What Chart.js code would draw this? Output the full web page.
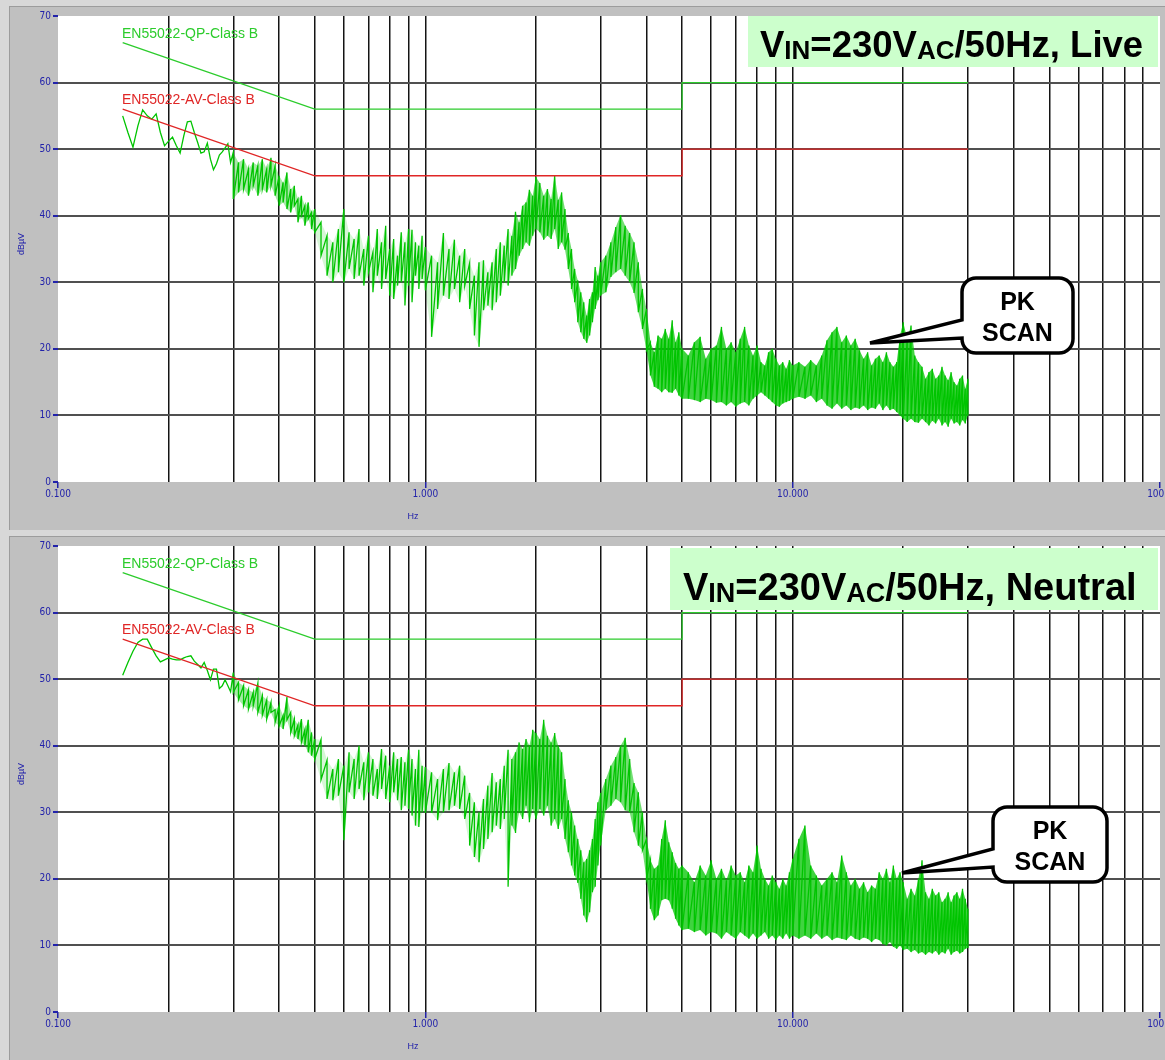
<!DOCTYPE html>
<html>
<head>
<meta charset="utf-8">
<title>Conducted EMI - PK scan</title>
<script src="https://cdn.jsdelivr.net/npm/chart.js"></script>
<style>
    body {
        margin: 0;
        background-color: #c0c0c0;
    }
    .panel {
        position: absolute;
        left: 0;
        width: 1165px;
        height: 530px;
    }
    #live { top: 0; }
    #neutral { top: 530px; }
</style>
</head>
<body>
<canvas id="live" class="panel" width="1165" height="530"></canvas>
<canvas id="neutral" class="panel" width="1165" height="530"></canvas>

<script>
// frequency grid of the scan (MHz), shared by both traces
var freqMHz = [
    0.150, 0.155, 0.160, 0.165, 0.170, 0.175, 0.180, 0.185, 0.190, 0.195,
    0.200, 0.205, 0.210, 0.215, 0.220, 0.225, 0.230, 0.235, 0.240, 0.245,
    0.250, 0.255, 0.260, 0.265, 0.270, 0.275, 0.280, 0.285, 0.290, 0.295,
    0.30, 0.31, 0.32, 0.33, 0.34, 0.35, 0.36, 0.37, 0.38, 0.39, 0.40, 0.41, 0.42, 0.43, 0.44, 0.45, 0.46, 0.47, 0.48, 0.49, 0.50,
    0.52, 0.54, 0.56, 0.58, 0.60, 0.62, 0.64, 0.66, 0.68, 0.70, 0.72, 0.74, 0.76, 0.78, 0.80, 0.82, 0.84, 0.86, 0.88, 0.90, 0.92, 0.94, 0.96, 0.98, 1.00,
    1.04, 1.08, 1.12, 1.16, 1.20, 1.24, 1.28, 1.32, 1.36, 1.40, 1.44, 1.48, 1.52, 1.56, 1.60, 1.64, 1.68, 1.72, 1.76, 1.80, 1.84, 1.88, 1.92, 1.96, 2.00,
    2.05, 2.10, 2.15, 2.20, 2.25, 2.30, 2.35, 2.40, 2.45, 2.50, 2.55, 2.60, 2.65, 2.70, 2.75, 2.80, 2.85, 2.90, 2.95, 3.00,
    3.1, 3.2, 3.3, 3.4, 3.5, 3.6, 3.7, 3.8, 3.9, 4.0, 4.1, 4.2, 4.3, 4.4, 4.5, 4.6, 4.7, 4.8, 4.9, 5.0,
    5.2, 5.4, 5.6, 5.8, 6.0, 6.2, 6.4, 6.6, 6.8, 7.0, 7.2, 7.4, 7.6, 7.8, 8.0, 8.2, 8.4, 8.6, 8.8, 9.0, 9.2, 9.4, 9.6, 9.8, 10.0,
    10.4, 10.8, 11.2, 11.6, 12.0, 12.4, 12.8, 13.2, 13.6, 14.0, 14.4, 14.8, 15.2, 15.6, 16.0, 16.4, 16.8, 17.2, 17.6, 18.0, 18.4, 18.8, 19.2, 19.6, 20.0,
    20.5, 21.0, 21.5, 22.0, 22.5, 23.0, 23.5, 24.0, 24.5, 25.0, 25.5, 26.0, 26.5, 27.0, 27.5, 28.0, 28.5, 29.0, 29.5, 30.0
];

// peak scan, live line (dBuV): max and min of each sweep bin (null = single reading)
var liveMax = [
    55.0, 52.5, 50.3, 53.5, 55.9, 55.0, 54.5, 55.3, 52.5, 50.5,
    51.2, 51.8, 50.5, 49.4, 52.0, 54.1, 54.2, 52.5, 51.0, 49.4,
    49.6, 50.9, 48.5, 46.9, 47.8, 49.1, 49.6, 50.2, 50.8, 48.0,
    49.5, 48.0, 48.5, 47.0, 48.0, 47.5, 48.5, 47.0, 48.7, 47.5, 46.0, 45.0, 46.5, 44.0, 44.5, 42.5, 43.0, 41.5, 42.0, 40.5, 41.0,
    39.0, 37.0, 36.0, 38.0, 41.0, 37.5, 36.5, 38.0, 35.0, 37.0, 34.5, 38.0, 36.0, 38.5, 35.0, 36.5, 34.0, 37.5, 36.0, 38.0, 37.9, 36.0, 35.5, 37.0, 35.3,
    34.0, 33.0, 37.4, 35.0, 36.4, 34.0, 35.0, 32.9, 31.0, 33.0, 33.3, 31.5, 33.0, 35.0, 36.0, 35.5, 38.0, 37.0, 40.6, 39.0, 41.5, 42.0, 43.9, 43.0, 45.8,
    44.9, 43.0, 44.0, 42.5, 46.1, 42.4, 43.5, 41.0, 37.4, 35.0, 32.0, 30.3, 28.5, 27.0, 25.0, 27.5, 28.5, 32.3, 31.0, 33.0,
    34.0, 36.0, 38.3, 40.1, 38.5, 37.4, 36.0, 33.0, 29.0, 26.0, 21.0, 19.5, 22.0, 21.5, 23.0, 21.5, 24.3, 21.0, 22.5, 20.0,
    19.0, 21.0, 21.8, 18.5, 20.0, 20.5, 23.3, 20.0, 21.0, 19.5, 21.5, 23.3, 20.5, 19.0, 20.5, 18.0, 17.5, 19.5, 20.0, 18.5, 17.5, 18.0, 17.0, 18.3, 17.5,
    18.0, 17.3, 18.3, 17.5, 19.0, 21.3, 22.5, 23.3, 21.0, 22.0, 20.5, 21.5, 19.8, 18.5, 19.5, 17.5, 18.5, 19.0, 18.0, 19.5, 18.0, 17.3, 18.0, 22.0, 24.0,
    21.5, 23.5, 19.0, 18.0, 17.3, 15.5, 16.5, 17.0, 15.5, 16.0, 17.3, 16.0, 15.3, 16.5, 15.0, 14.5, 15.5, 16.0, 14.0, 15.5
];
var liveMin = [
    null, null, null, null, null, null, null, null, null, null,
    null, null, null, null, null, null, null, null, null, null,
    null, null, null, null, null, null, null, null, null, null,
    42.5, 43.5, 44.0, 43.0, 44.5, 43.0, 44.0, 43.5, 44.5, 43.0, 41.5, 42.0, 41.0, 40.5, 41.5, 39.0, 40.0, 38.5, 39.5, 38.0, 37.5,
    34.0, 31.0, 30.0, 31.5, 30.0, 32.0, 30.5, 31.0, 29.5, 31.5, 28.5, 31.0, 29.0, 30.5, 28.0, 27.5, 29.5, 30.0, 26.5, 29.5, 27.0, 31.0, 29.0, 30.5, 28.8,
    21.8, 26.0, 28.0, 27.5, 29.0, 27.0, 29.5, 26.0, 22.0, 20.3, 25.8, 26.5, 25.8, 27.0, 28.0, 30.0, 29.5, 31.0, 32.0, 34.0, 35.0, 36.0, 35.5, 37.0, 38.0,
    37.5, 36.4, 37.0, 36.5, 38.0, 35.0, 36.0, 34.9, 32.0, 29.0, 27.0, 24.0, 22.5, 21.5, 20.9, 22.0, 24.0, 26.0, 27.3, 28.0,
    28.5, 30.8, 31.5, 32.0, 31.0, 30.0, 28.4, 25.5, 23.0, 19.8, 16.0, 14.3, 14.0, 13.5, 14.0, 13.5, 13.4, 14.0, 13.0, 12.5,
    12.5, 12.3, 12.0, 12.5, 12.3, 11.9, 12.0, 11.5, 12.0, 11.3, 11.8, 12.0, 11.5, 12.5, 13.0, 13.5, 13.0, 12.5, 12.0, 11.5, 11.3, 11.8, 12.0, 12.2, 12.5,
    12.8, 12.5, 13.0, 12.0, 12.5, 11.5, 11.0, 11.8, 11.0, 11.5, 10.8, 11.2, 11.0, 11.5, 10.8, 11.2, 11.0, 11.8, 10.8, 11.5, 10.8, 11.0, 10.5, 10.0, 9.5,
    9.0, 9.5, 9.0, 8.9, 9.5, 9.0, 8.5, 9.2, 8.8, 9.5, 8.5, 9.0, 8.3, 9.5, 8.8, 9.0, 8.5, 9.3, 8.8, 10.0
];

// peak scan, neutral line (dBuV)
var neutralMax = [
    50.6, 52.5, 54.2, 55.5, 56.0, 56.0, 54.7, 53.5, 52.6, 52.9,
    53.2, 53.0, 52.9, 52.9, 53.2, 53.4, 53.5, 52.7, 52.2, 51.7,
    52.5, 51.3, 49.9, 51.5, 51.5, 48.6, 49.0, 49.9, 49.0, 48.1,
    51.0, 49.5, 49.0, 48.4, 48.0, 49.4, 47.5, 46.9, 46.5, 45.4, 46.0, 44.5, 47.3, 45.0, 44.0, 43.1, 44.0, 42.4, 43.9, 42.0, 41.0,
    40.9, 37.8, 36.5, 38.0, 37.0, 39.0, 38.0, 40.0, 37.5, 39.0, 38.0, 36.5, 39.5, 38.5, 37.0, 39.0, 38.0, 38.3, 37.5, 39.4, 38.0, 36.5, 39.4, 37.0, 36.8,
    36.0, 35.0, 36.5, 37.4, 36.0, 37.0, 35.5, 32.9, 31.5, 30.0, 32.0, 34.0, 35.9, 34.5, 35.0, 37.0, 39.4, 38.0, 39.0, 40.5, 39.5, 41.0, 40.0, 42.4, 41.9,
    41.0, 43.9, 41.5, 40.5, 41.9, 40.0, 39.0, 35.0, 31.8, 30.0, 28.0, 26.0, 24.3, 22.5, 23.0, 24.3, 26.0, 29.0, 31.5, 32.9,
    35.0, 37.0, 38.3, 40.0, 41.2, 38.0, 34.4, 33.0, 30.0, 26.0, 22.8, 21.5, 22.0, 26.0, 28.8, 25.5, 24.0, 22.4, 21.5, 22.0,
    21.0, 19.5, 22.0, 20.5, 22.8, 20.0, 21.5, 19.8, 22.0, 20.5, 21.0, 19.5, 22.0, 21.0, 25.0, 21.5, 20.0, 19.0, 20.5, 19.5, 18.5, 20.0, 19.0, 21.0, 23.0,
    26.0, 28.0, 22.0, 20.5, 19.0, 20.0, 21.0, 19.5, 23.5, 21.0, 19.0, 20.0, 18.5, 19.5, 18.0, 19.0, 18.5, 21.0, 20.0, 21.5, 19.5, 22.0, 20.0, 21.0, 19.5,
    17.0, 18.5, 17.5, 20.0, 22.8, 18.0, 17.0, 18.5, 17.5, 18.0, 16.5, 17.0, 18.0, 16.5, 17.5, 18.0, 17.0, 18.5, 17.0, 15.5
];
var neutralMin = [
    null, null, null, null, null, null, null, null, null, null,
    null, null, null, null, null, null, null, null, null, null,
    null, null, null, null, null, null, null, null, null, null,
    48.0, 46.9, 46.0, 45.5, 46.0, 45.0, 44.6, 44.0, 45.0, 43.5, 43.0, 42.5, 43.9, 42.0, 41.5, 41.0, 40.5, 40.0, 39.0, 38.5, 38.0,
    34.9, 32.0, 31.8, 32.5, 25.8, 33.0, 32.0, 33.5, 31.8, 33.0, 32.5, 32.0, 33.5, 32.0, 31.5, 33.0, 31.8, 30.3, 31.0, 30.5, 29.5, 28.0, 27.8, 30.0, 29.9,
    29.9, 28.8, 30.0, 30.3, 31.0, 30.5, 29.0, 25.0, 23.3, 22.5, 24.5, 26.0, 27.0, 28.0, 27.5, 29.0, 18.8, 28.0, 26.9, 30.0, 29.0, 31.0, 28.5, 30.5, 29.0,
    30.5, 29.5, 31.0, 28.0, 29.0, 27.5, 29.0, 26.0, 24.0, 22.0, 20.5, 19.4, 17.0, 14.5, 13.5, 15.0, 18.0, 18.8, 22.0, 25.0,
    30.3, 31.0, 32.0, 31.5, 30.3, 30.0, 27.0, 25.0, 24.3, 20.0, 15.5, 13.8, 14.5, 16.8, 17.0, 16.8, 15.5, 14.0, 13.0, 12.3,
    12.5, 12.0, 12.3, 11.5, 12.0, 11.8, 11.0, 12.0, 11.5, 11.0, 12.0, 11.5, 11.0, 11.8, 11.0, 11.5, 12.0, 11.0, 11.5, 10.8, 11.5, 11.0, 11.8, 11.0, 11.5,
    11.0, 11.5, 11.0, 11.8, 11.0, 11.5, 10.8, 11.2, 11.0, 10.8, 11.5, 11.0, 10.8, 11.2, 11.0, 10.5, 11.0, 10.8, 10.2, 10.0, 10.5, 9.8, 9.5, 10.0, 9.3,
    9.5, 9.0, 9.3, 8.8, 9.0, 8.6, 9.0, 8.8, 9.2, 8.6, 9.0, 8.8, 9.5, 8.6, 9.0, 9.2, 8.8, 9.0, 9.5, 9.6
];

// EN55022 class B limits
var limitFreq = [0.15, 0.5, 5, 5, 30];
var qpLimit = [66, 56, 56, 60, 60];
var avLimit = [56, 46, 46, 50, 50];

// axis ticks
var gridFreq = [0.1, 0.2, 0.3, 0.4, 0.5, 0.6, 0.7, 0.8, 0.9,
                1, 2, 3, 4, 5, 6, 7, 8, 9,
                10, 20, 30, 40, 50, 60, 70, 80, 90, 100];
var decadeFreq = [0.1, 1, 10, 100];
var decadeLabels = ['0.100', '1.000', '10.000', '100.0'];
var levelTicks = [0, 10, 20, 30, 40, 50, 60, 70];

var BLUE = '#2222aa';
var TRACE = '#00c400';
var TICK_FONT = { family: "'Liberation Sans Narrow', 'DejaVu Sans Condensed', 'Liberation Sans', Arial", size: 10 };
var ARIAL = '"Liberation Sans", Arial, sans-serif';

function decadeIndex(v) {
    for (var i = 0; i < decadeFreq.length; i++) {
        if (Math.abs(v - decadeFreq[i]) < 1e-9 * decadeFreq[i] + 1e-12) return i;
    }
    return -1;
}

// zig-zag through each bin: max then min
function traceData(hi, lo) {
    var pts = [];
    for (var i = 0; i < freqMHz.length; i++) {
        pts.push({ x: freqMHz[i], y: hi[i] });
        if (lo[i] !== null) pts.push({ x: freqMHz[i], y: lo[i] });
    }
    return pts;
}

// envelope of the bins (only where a bin has a spread)
function envelope(vals, lo) {
    return freqMHz.map(function (f, i) { return { x: f, y: lo[i] === null ? null : vals[i] }; });
}

function limitData(vals) {
    return limitFreq.map(function (f, i) { return { x: f, y: vals[i] }; });
}

// how solid the dense band looks in each frequency range
function bandColor(c) {
    var f = c.p0.parsed.x;
    var a = f < 0.5 ? 0.35 : f < 1.7 ? 0.16 : f < 4 ? 0.55 : 0.75;
    return 'rgba(0,196,0,' + a + ')';
}

var framePlugin = {
    id: 'frame',
    beforeDraw: function (chart) {
        var ctx = chart.ctx, w = chart.width, h = chart.height, a = chart.chartArea;
        ctx.save();
        ctx.fillStyle = '#c0c0c0';
        ctx.fillRect(0, 0, w, h);
        ctx.fillStyle = '#d8d8d8';
        ctx.fillRect(0, 0, w, 6);
        ctx.fillRect(0, 0, 9, h);
        ctx.strokeStyle = '#9c9c9c';
        ctx.lineWidth = 1;
        ctx.beginPath();
        ctx.moveTo(9, 6.5); ctx.lineTo(w, 6.5);
        ctx.moveTo(9.5, 6); ctx.lineTo(9.5, h);
        ctx.stroke();
        ctx.fillStyle = '#ffffff';
        ctx.fillRect(a.left, a.top, a.right - a.left, a.bottom - a.top);
        ctx.restore();
    }
};

function drawCallout(ctx, c) {
    var x0 = c.x, y0 = c.y, x1 = c.x + c.w, y1 = c.y + c.h, r = 14;
    ctx.save();
    ctx.beginPath();
    ctx.moveTo(x0 + r, y0);
    ctx.lineTo(x1 - r, y0);
    ctx.arcTo(x1, y0, x1, y0 + r, r);
    ctx.lineTo(x1, y1 - r);
    ctx.arcTo(x1, y1, x1 - r, y1, r);
    ctx.lineTo(x0 + r, y1);
    ctx.arcTo(x0, y1, x0, y1 - r, r);
    ctx.lineTo(x0, c.wedgeB);
    ctx.lineTo(c.tipX, c.tipY);
    ctx.lineTo(x0, c.wedgeA);
    ctx.lineTo(x0, y0 + r);
    ctx.arcTo(x0, y0, x0 + r, y0, r);
    ctx.closePath();
    ctx.fillStyle = '#ffffff';
    ctx.fill();
    ctx.lineWidth = 3.5;
    ctx.lineJoin = 'miter';
    ctx.miterLimit = 3;
    ctx.strokeStyle = '#000000';
    ctx.stroke();
    ctx.fillStyle = '#000000';
    ctx.font = 'bold 25px ' + ARIAL;
    ctx.textAlign = 'center';
    ctx.textBaseline = 'middle';
    ctx.fillText('PK', (x0 + x1) / 2, y0 + 25);
    ctx.fillText('SCAN', (x0 + x1) / 2, y0 + 56);
    ctx.restore();
}

function drawTitleBox(ctx, t, place) {
    ctx.save();
    ctx.fillStyle = '#ccffcc';
    ctx.fillRect(t.x, t.y, t.w, t.h);
    ctx.fillStyle = '#000000';
    ctx.textAlign = 'left';
    ctx.textBaseline = 'alphabetic';
    var big = t.size, small = Math.round(t.size * 0.72);
    var parts = [
        { s: 'V', size: big, sub: false },
        { s: 'IN', size: small, sub: true },
        { s: '=230V', size: big, sub: false },
        { s: 'AC', size: small, sub: true },
        { s: '/50Hz, ' + place, size: big, sub: false }
    ];
    var x = t.textX;
    parts.forEach(function (p) {
        ctx.font = 'bold ' + p.size + 'px ' + ARIAL;
        ctx.fillText(p.s, x, t.baseline + (p.sub ? 2 : 0));
        x += ctx.measureText(p.s).width;
    });
    ctx.restore();
}

var notesPlugin = {
    id: 'notes',
    afterDraw: function (chart) {
        var ctx = chart.ctx, o = chart.options.plugins.notes;
        ctx.save();
        ctx.font = '14px ' + ARIAL;
        ctx.textAlign = 'left';
        ctx.textBaseline = 'middle';
        ctx.fillStyle = '#2ccc2c';
        ctx.fillText('EN55022-QP-Class B', 122, 34);
        ctx.fillStyle = '#e02626';
        ctx.fillText('EN55022-AV-Class B', 122, 100);

        ctx.fillStyle = BLUE;
        ctx.font = '9px ' + ARIAL;
        ctx.textAlign = 'center';
        ctx.fillText('Hz', 413, 517);
        ctx.translate(22, 244);
        ctx.rotate(-Math.PI / 2);
        ctx.fillText('dBµV', 0, 0);
        ctx.restore();

        drawTitleBox(ctx, o.title, o.place);
        drawCallout(ctx, o.callout);
    }
};

function makeChart(id, hi, lo, notes) {
    var ctx = document.getElementById(id).getContext('2d');
    return new Chart(ctx, {
        type: 'line',
        data: {
            datasets: [{
                label: 'EN55022-QP-Class B',
                data: limitData(qpLimit),
                borderColor: '#2ccc2c',
                borderWidth: 1.3,
                pointRadius: 0,
                order: 0
            }, {
                label: 'EN55022-AV-Class B',
                data: limitData(avLimit),
                borderColor: '#e02626',
                borderWidth: 1.3,
                pointRadius: 0,
                order: 0
            }, {
                label: 'PK scan',
                data: traceData(hi, lo),
                borderColor: TRACE,
                borderWidth: 1.3,
                pointRadius: 0,
                order: 1
            }, {
                label: 'band max',
                data: envelope(hi, lo),
                borderWidth: 0,
                borderColor: 'rgba(0,0,0,0)',
                pointRadius: 0,
                spanGaps: false,
                order: 2
            }, {
                label: 'band min',
                data: envelope(lo, lo),
                borderWidth: 0,
                borderColor: 'rgba(0,0,0,0)',
                pointRadius: 0,
                spanGaps: false,
                fill: '-1',
                backgroundColor: 'rgba(0,196,0,0.5)',
                segment: { backgroundColor: bandColor },
                order: 2
            }]
        },
        options: {
            responsive: false,
            animation: false,
            layout: { padding: { left: 0, top: 16, right: 5, bottom: 0 } },
            elements: { line: { tension: 0 } },
            plugins: {
                legend: { display: false },
                tooltip: { enabled: false },
                notes: notes
            },
            scales: {
                x: {
                    type: 'logarithmic',
                    min: 0.1,
                    max: 100,
                    border: { display: false },
                    afterBuildTicks: function (scale) {
                        scale.ticks = gridFreq.map(function (v) { return { value: v }; });
                    },
                    afterFit: function (scale) {
                        scale.height = 48;
                        scale.paddingLeft = 0;
                        scale.paddingRight = 0;
                    },
                    grid: {
                        color: function (c) {
                            var v = c.tick ? c.tick.value : 0;
                            return (Math.abs(v - 0.1) < 1e-9 || Math.abs(v - 100) < 1e-9) ? 'rgba(0,0,0,0)' : '#141414';
                        },
                        lineWidth: 1.5,
                        tickLength: 6,
                        tickColor: function (c) {
                            return decadeIndex(c.tick ? c.tick.value : 0) >= 0 ? BLUE : 'rgba(0,0,0,0)';
                        }
                    },
                    ticks: {
                        autoSkip: false,
                        maxRotation: 0,
                        minRotation: 0,
                        padding: 0,
                        color: BLUE,
                        font: TICK_FONT,
                        callback: function (v) {
                            var i = decadeIndex(v);
                            return i >= 0 ? decadeLabels[i] : '';
                        }
                    }
                },
                y: {
                    min: 0,
                    max: 70,
                    border: { display: false },
                    afterBuildTicks: function (scale) {
                        scale.ticks = levelTicks.map(function (v) { return { value: v }; });
                    },
                    afterFit: function (scale) {
                        scale.width = 58;
                        scale.paddingTop = 0;
                        scale.paddingBottom = 0;
                    },
                    grid: {
                        color: function (c) {
                            var v = c.tick ? c.tick.value : 0;
                            return (v === 0 || v === 70) ? 'rgba(0,0,0,0)' : '#505050';
                        },
                        lineWidth: 2,
                        tickLength: 5,
                        tickColor: BLUE
                    },
                    ticks: {
                        padding: 2,
                        color: BLUE,
                        font: TICK_FONT
                    }
                }
            }
        },
        plugins: [framePlugin, notesPlugin]
    });
}

makeChart('live', liveMax, liveMin, {
    place: 'Live',
    title: { x: 748, y: 16, w: 410, h: 51, textX: 760, baseline: 57, size: 36.5 },
    callout: { x: 962, y: 278, w: 111, h: 75, wedgeA: 320, wedgeB: 338, tipX: 870, tipY: 343 }
});

makeChart('neutral', neutralMax, neutralMin, {
    place: 'Neutral',
    title: { x: 670, y: 18, w: 488, h: 62, textX: 683, baseline: 70, size: 38 },
    callout: { x: 993, y: 277, w: 114, h: 75, wedgeA: 319, wedgeB: 337, tipX: 902, tipY: 343 }
});
</script>
</body>
</html>
